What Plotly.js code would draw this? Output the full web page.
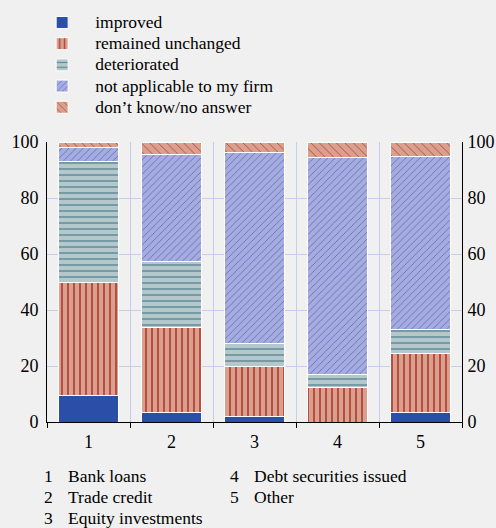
<!DOCTYPE html>
<html>
<head>
<meta charset="utf-8">
<script src="https://cdn.plot.ly/plotly-3.0.1.min.js"></script>
<style>html,body{margin:0;padding:0;background:#f0f0f0;}#chart{width:496px;height:528px;}</style>
</head>
<body>
<div id="chart"></div>
<script>
var categories = [1, 2, 3, 4, 5];
var categoryLabels = ['1', '2', '3', '4', '5'];
var categoryNames = ['Bank loans', 'Trade credit', 'Equity investments', 'Debt securities issued', 'Other'];
var seriesNames = ['improved', 'remained unchanged', 'deteriorated', 'not applicable to my firm', 'don\u2019t know/no answer'];
var improved = [9.3, 3.4, 2.0, 0, 3.4];
var remained = [40.6, 30.5, 17.7, 12.2, 21.1];
var deteriorated = [43.1, 23.4, 8.4, 4.8, 8.6];
var notApplicable = [5.1, 38.1, 68.3, 77.5, 61.9];
var dontKnow = [1.9, 4.6, 3.6, 5.5, 5.0];
var yTicks = [0, 20, 40, 60, 80, 100];

var FONT = 'Liberation Serif';
var TXT = 17.5;
var series = [improved, remained, deteriorated, notApplicable, dontKnow];
var styles = [
  {color: '#2b4fa8', pattern: {shape: ''}},
  {color: '#d9a08e', pattern: {shape: '|', fgcolor: '#b5453a', bgcolor: '#d9a08e', size: 6, solidity: 0.3}},
  {color: '#b4c8cc', pattern: {shape: '-', fgcolor: '#5f8c99', bgcolor: '#b4c8cc', size: 6, solidity: 0.25}},
  {color: '#a6acde', pattern: {shape: '/', fgcolor: '#3f55b5', bgcolor: '#a6acde', size: 5, solidity: 0.12}},
  {color: '#d9a08e', pattern: {shape: '\\', fgcolor: '#b5453a', bgcolor: '#d9a08e', size: 6, solidity: 0.15}}
];
var traces = series.map(function (vals, i) {
  return {
    type: 'bar', x: categories, y: vals,
    name: '<span style="font-size:' + TXT + 'px">' + seriesNames[i] + '</span>',
    width: 0.72,
    marker: {color: styles[i].color, pattern: styles[i].pattern, line: {color: '#ffffff', width: 1}},
    hoverinfo: 'name+y'
  };
});
// empty trace so the right-hand axis is drawn
traces.push({type: 'scatter', x: [], y: [], yaxis: 'y2', showlegend: false, hoverinfo: 'skip'});

var annotations = [];
categoryNames.forEach(function (n, i) {
  var col = i < 3 ? 0 : 1;
  var row = i < 3 ? i : i - 3;
  var px0 = col === 0 ? 42 : 228;
  var ypx = 476 + row * 21;
  annotations.push({xref: 'paper', yref: 'paper', xanchor: 'left', yanchor: 'middle',
    x: (px0 - 47) / 415, y: (422 - ypx) / 280, text: categoryLabels[i], showarrow: false,
    font: {family: FONT, size: TXT, color: '#000'}});
  annotations.push({xref: 'paper', yref: 'paper', xanchor: 'left', yanchor: 'middle',
    x: (px0 + 24 - 47) / 415, y: (422 - ypx) / 280, text: n, showarrow: false,
    font: {family: FONT, size: TXT, color: '#000'}});
});

var layout = {
  width: 496, height: 528,
  paper_bgcolor: '#f0f0f0', plot_bgcolor: '#f0f0f0',
  margin: {l: 47, r: 34, t: 142, b: 106, autoexpand: false},
  barmode: 'stack',
  font: {family: FONT, size: TXT, color: '#000'},
  showlegend: true,
  legend: {x: -0.043, xanchor: 'left', y: 1.4826, yanchor: 'top', bgcolor: 'rgba(0,0,0,0)',
    itemwidth: 56, font: {family: FONT, size: 14, color: '#000'}, traceorder: 'normal', tracegroupgap: 0},
  xaxis: {
    range: [0.5, 5.5], tickvals: categories, ticktext: categoryLabels, ticks: '', showgrid: false,
    zeroline: false, showline: true, linecolor: '#000', linewidth: 1, ticklabelstandoff: 3,
    tickfont: {family: FONT, size: 18, color: '#000'},
    minor: {tick0: 0.5, dtick: 1, ticks: 'outside', ticklen: 5, tickcolor: '#000', showgrid: true, gridcolor: '#c8cdee', gridwidth: 1}
  },
  yaxis: {
    range: [0, 100], tickvals: yTicks, showgrid: true, gridcolor: '#c8cdee', gridwidth: 1,
    zeroline: false, showline: true, linecolor: '#000', linewidth: 1, ticks: '', ticklabelstandoff: 4,
    tickfont: {family: FONT, size: 18, color: '#000'}
  },
  yaxis2: {
    range: [0, 100], tickvals: yTicks, overlaying: 'y', side: 'right', anchor: 'x', showgrid: false,
    zeroline: false, showline: true, linecolor: '#000', linewidth: 1, ticks: '', ticklabelstandoff: 1,
    tickfont: {family: FONT, size: 18, color: '#000'}
  },
  annotations: annotations
};

Plotly.newPlot('chart', traces, layout, {displayModeBar: false, staticPlot: true});
</script>
</body>
</html>
